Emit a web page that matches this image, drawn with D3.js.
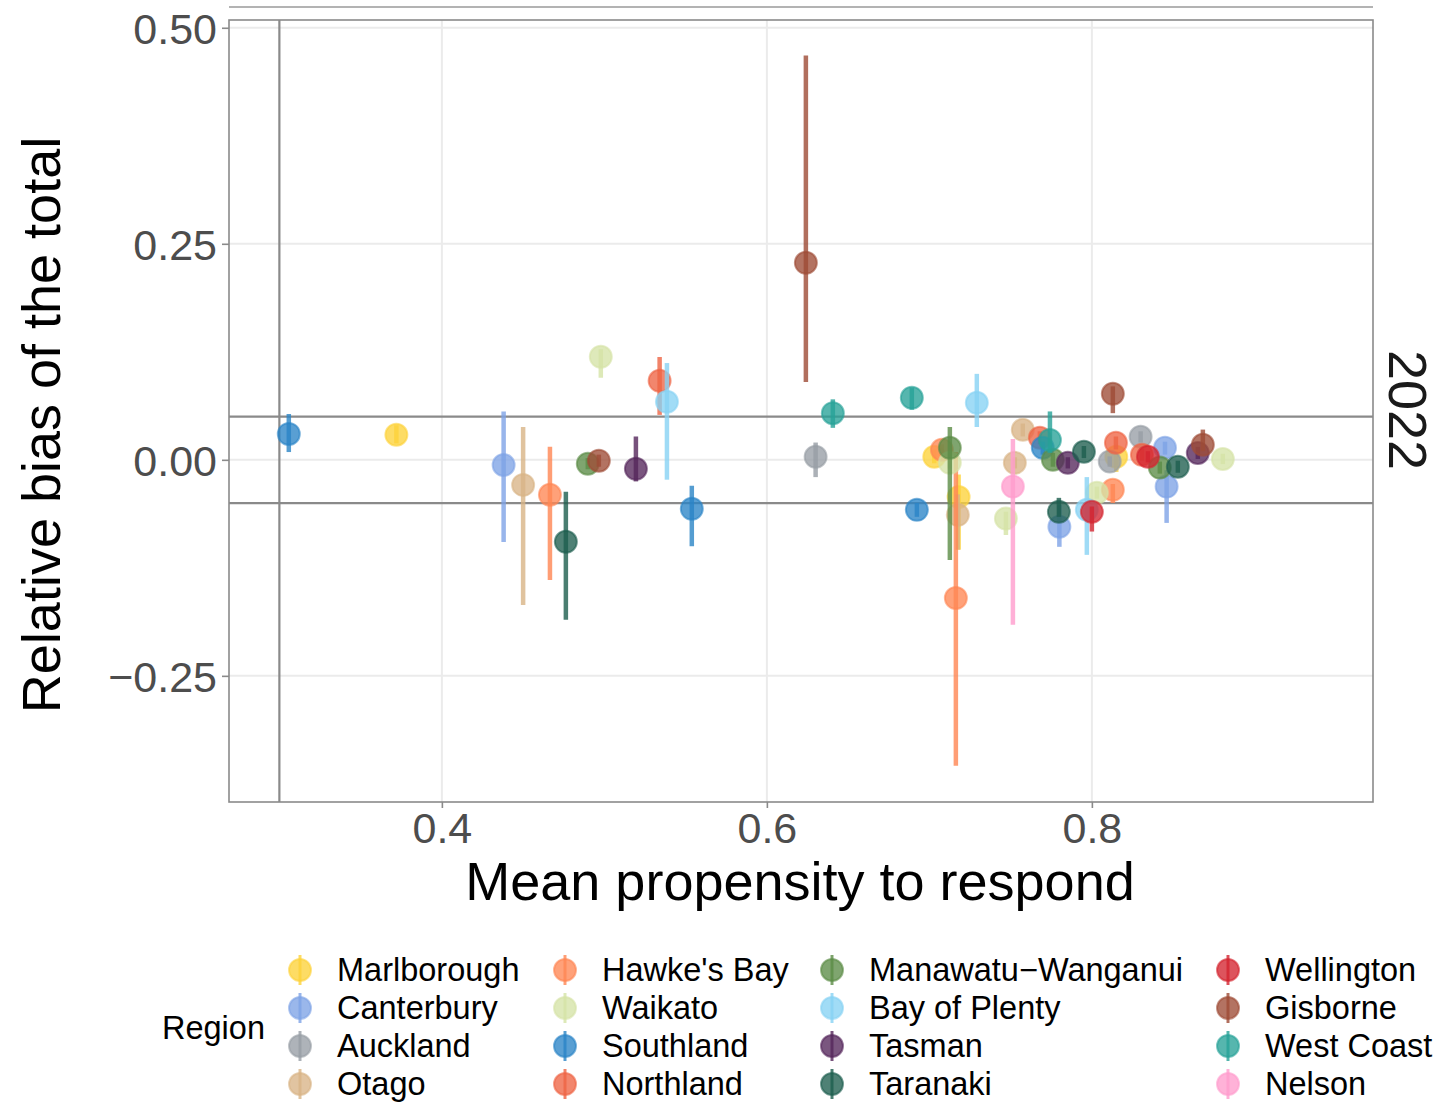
<!DOCTYPE html>
<html><head><meta charset="utf-8">
<script src="https://cdn.jsdelivr.net/npm/d3@7"></script>
<style>body{margin:0;background:#fff;} svg{display:block;font-family:"Liberation Sans",Arial,sans-serif;}</style>
</head><body>
<script>
const regions = ["Marlborough","Canterbury","Auckland","Otago","Hawke's Bay","Waikato","Southland","Northland","Manawatu\u2212Wanganui","Bay of Plenty","Tasman","Taranaki","Wellington","Gisborne","West Coast","Nelson"];
const regionColors = ["#FDD23A","#7EA3E6","#979EA5","#D8B486","#FF8653","#D5E3A6","#2A84C6","#EE6444","#5B8C46","#87D2F4","#55275B","#1D5E4E","#D3242F","#9E4B36","#27A197","#FF9CCD"];
// each observation: region, propensity, bias, lower, upper
const obsRegion = ["Marlborough","Marlborough","Marlborough","Marlborough",
 "Canterbury","Canterbury","Canterbury","Canterbury",
 "Auckland","Auckland","Auckland",
 "Otago","Otago","Otago","Otago",
 "Hawke's Bay","Hawke's Bay","Hawke's Bay","Hawke's Bay",
 "Northland","Northland","Northland","Northland",
 "Waikato","Waikato","Waikato","Waikato","Waikato",
 "Southland","Southland","Southland","Southland",
 "Manawatu\u2212Wanganui","Manawatu\u2212Wanganui","Manawatu\u2212Wanganui","Manawatu\u2212Wanganui",
 "Bay of Plenty","Bay of Plenty","Bay of Plenty",
 "Tasman","Tasman","Tasman",
 "Taranaki","Taranaki","Taranaki","Taranaki",
 "Wellington","Wellington",
 "Gisborne","Gisborne","Gisborne","Gisborne",
 "West Coast","West Coast","West Coast",
 "Nelson"];
const obsPropensity = [0.372,0.703,0.718,0.815,
 0.438,0.780,0.845,0.846,
 0.630,0.811,0.830,
 0.450,0.7575,0.7526,0.7175,
 0.4665,0.7077,0.7163,0.8129,
 0.534,0.768,0.8148,0.8308,
 0.4978,0.7126,0.7471,0.8031,0.8806,
 0.3058,0.5538,0.6923,0.7698,
 0.4898,0.7126,0.776,0.8418,
 0.5385,0.7292,0.7969,
 0.5194,0.7852,0.8652,
 0.4763,0.7797,0.7951,0.8529,
 0.800,0.8345,
 0.4966,0.624,0.8129,0.8683,
 0.6406,0.6892,0.7742,
 0.7514];
const obsBias = [0.029,0.0035,-0.043,0.0035,
 -0.006,-0.0775,0.0139,-0.031,
 0.0035,-0.002,0.0266,
 -0.029,0.0347,-0.0035,-0.0637,
 -0.0405,0.0116,-0.160,-0.0347,
 0.0914,0.0255,0.0197,0.0058,
 0.1192,-0.0035,-0.068,-0.038,0.001,
 0.030,-0.0567,-0.0579,0.0139,
 -0.0046,0.0139,0.0,-0.009,
 0.0671,0.066,-0.0579,
 -0.0104,-0.0035,0.008,
 -0.0949,-0.0602,0.0093,-0.008,
 -0.0602,0.0035,
 -0.001,0.228,0.0764,0.0174,
 0.054,0.0718,0.023,
 -0.031];
const obsLower = [0.019,-0.004,-0.104,-0.014,
 -0.095,-0.1007,0.006,-0.073,
 -0.020,-0.008,0.020,
 -0.168,0.027,-0.010,-0.104,
 -0.139,0.005,-0.354,-0.050,
 0.052,0.018,0.012,-0.001,
 0.095,-0.010,-0.087,-0.045,-0.005,
 0.009,-0.100,-0.066,0.006,
 -0.011,-0.116,-0.008,-0.016,
 -0.023,0.038,-0.110,
 -0.025,-0.010,0.001,
 -0.185,-0.066,0.002,-0.015,
 -0.083,-0.003,
 -0.008,0.090,0.054,0.010,
 0.037,0.058,0.008,
 -0.191];
const obsUpper = [0.040,0.012,-0.017,0.010,
 0.056,-0.052,0.021,-0.012,
 0.020,0.004,0.033,
 0.038,0.042,0.003,-0.040,
 0.015,0.018,0.009,-0.028,
 0.119,0.033,0.027,0.013,
 0.128,0.003,-0.060,-0.031,0.007,
 0.053,-0.030,-0.050,0.021,
 0.002,0.038,0.008,-0.002,
 0.112,0.0995,-0.020,
 0.027,0.003,0.015,
 -0.037,-0.044,0.016,-0.001,
 -0.054,0.010,
 0.006,0.468,0.085,0.035,
 0.070,0.083,0.056,
 0.024];
const xTicks = [0.4,0.6,0.8];
const yTicks = [0.50,0.25,0.00,-0.25];
const refH = [0.05,-0.05];
const refV = [0.3];
const stripLabel = "2022";

const W = 1438, H = 1102;
const P = {left:229, right:1373, top:20, bottom:802};
const svg = d3.select("body").append("svg").attr("width",W).attr("height",H);
const x = d3.scaleLinear().domain([0.269,0.973]).range([P.left,P.right]);
const y = d3.scaleLinear().domain([-0.396,0.509]).range([P.bottom,P.top]);
const color = d3.scaleOrdinal().domain(regions).range(regionColors);

// line above panel (edge of adjacent facet)
svg.append("line").attr("x1",P.left).attr("x2",P.right).attr("y1",7).attr("y2",7).attr("stroke","#9a9a9a").attr("stroke-width",1.5);

// grid
const g = svg.append("g");
g.selectAll(".gx").data(xTicks).join("line").attr("x1",d=>x(d)).attr("x2",d=>x(d)).attr("y1",P.top).attr("y2",P.bottom).attr("stroke","#ebebeb").attr("stroke-width",2);
g.selectAll(".gy").data(yTicks).join("line").attr("x1",P.left).attr("x2",P.right).attr("y1",d=>y(d)).attr("y2",d=>y(d)).attr("stroke","#ebebeb").attr("stroke-width",2);

// reference lines
g.selectAll(".rh").data(refH).join("line").attr("x1",P.left).attr("x2",P.right).attr("y1",d=>y(d)).attr("y2",d=>y(d)).attr("stroke","#8a8a8a").attr("stroke-width",2.2);
g.selectAll(".rv").data(refV).join("line").attr("x1",d=>x(d)).attr("x2",d=>x(d)).attr("y1",P.top).attr("y2",P.bottom).attr("stroke","#8a8a8a").attr("stroke-width",2.2);

// data
const obs = obsRegion.map((r,i)=>({r, px:obsPropensity[i], b:obsBias[i], lo:obsLower[i], hi:obsUpper[i]}));
svg.append("clipPath").attr("id","clip").append("rect").attr("x",P.left).attr("y",P.top).attr("width",P.right-P.left).attr("height",P.bottom-P.top);
const marks = svg.append("g").attr("clip-path","url(#clip)");
const og = marks.selectAll("g.o").data(obs).join("g");
og.append("line").attr("x1",d=>x(d.px)).attr("x2",d=>x(d.px)).attr("y1",d=>y(d.hi)).attr("y2",d=>y(d.lo)).attr("stroke",d=>color(d.r)).attr("stroke-width",4.5).attr("stroke-opacity",0.8);
og.append("circle").attr("cx",d=>x(d.px)).attr("cy",d=>y(d.b)).attr("r",11).attr("fill",d=>color(d.r)).attr("fill-opacity",0.78).attr("stroke",d=>color(d.r)).attr("stroke-width",2).attr("stroke-opacity",0.6);

// panel border
svg.append("rect").attr("x",P.left).attr("y",P.top).attr("width",P.right-P.left).attr("height",P.bottom-P.top).attr("fill","none").attr("stroke","#8a8a8a").attr("stroke-width",1.6);

// axes
const xa = svg.append("g").attr("transform",`translate(0,${P.bottom})`).call(d3.axisBottom(x).tickValues(xTicks).tickFormat(d3.format(".1f")).tickSize(6).tickPadding(4));
const ya = svg.append("g").attr("transform",`translate(${P.left},0)`).call(d3.axisLeft(y).tickValues(yTicks).tickFormat(d=>d3.format(".2f")(d).replace("-","\u2212")).tickSize(7).tickPadding(5));
[xa,ya].forEach(a=>{a.select(".domain").remove(); a.selectAll(".tick line").attr("stroke","#8a8a8a").attr("stroke-width",1.6); a.selectAll("text").attr("fill","#4d4d4d").attr("font-size",43).attr("font-family","Liberation Sans, Arial, sans-serif");});
xa.selectAll("text").attr("dy","0.71em");
ya.selectAll("text").attr("dy","0.36em");

// titles
svg.append("text").attr("x",800).attr("y",900).attr("text-anchor","middle").attr("font-size",54).attr("fill","#000").text("Mean propensity to respond");
svg.append("text").attr("transform",`translate(60,425) rotate(-90)`).attr("text-anchor","middle").attr("font-size",54).attr("fill","#000").text("Relative bias of the total");
svg.append("text").attr("transform",`translate(1389,410) rotate(90)`).attr("text-anchor","middle").attr("font-size",54).attr("fill","#1a1a1a").text(stripLabel);

// legend
svg.append("text").attr("x",162).attr("y",1028).attr("dy","0.35em").attr("font-size",32.5).attr("fill","#000").text("Region");
const colKeyX = [300,565,832,1228];
const rowY = [970,1008,1046,1084];
const lg = svg.append("g").selectAll("g").data(regions).join("g")
  .attr("transform",(d,i)=>`translate(${colKeyX[Math.floor(i/4)]},${rowY[i%4]})`);
lg.append("line").attr("y1",-15).attr("y2",15).attr("stroke",d=>color(d)).attr("stroke-width",3).attr("stroke-opacity",0.8);
lg.append("circle").attr("r",11).attr("fill",d=>color(d)).attr("fill-opacity",0.78).attr("stroke",d=>color(d)).attr("stroke-width",2).attr("stroke-opacity",0.6);
lg.append("text").attr("x",37).attr("dy","0.35em").attr("font-size",32.5).attr("fill","#000").text(d=>d);
</script>
</body></html>
